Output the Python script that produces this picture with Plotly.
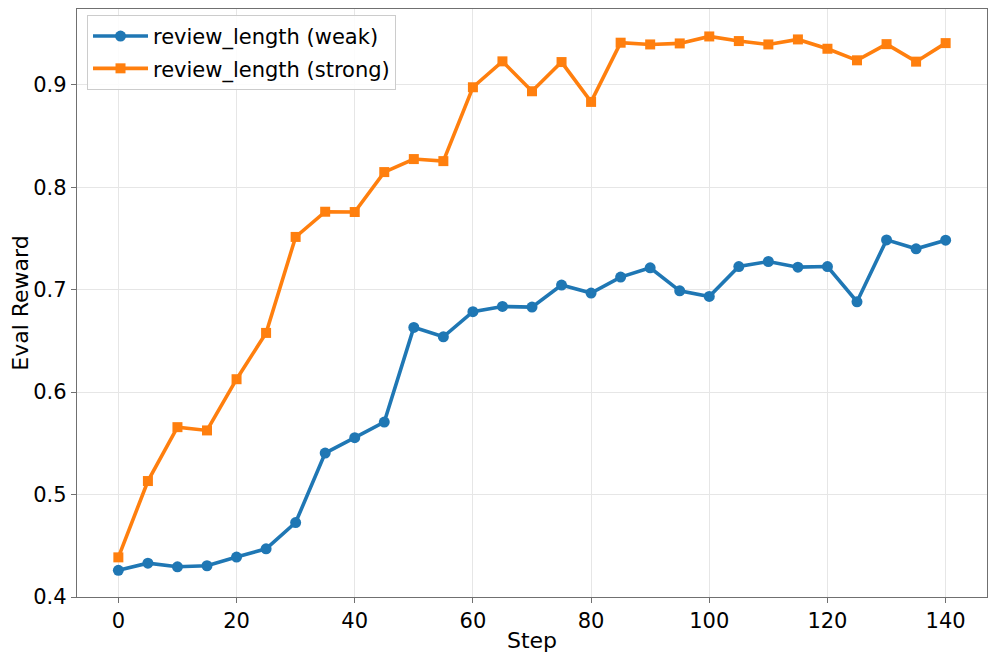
import plotly.graph_objects as go

steps = list(range(0, 145, 5))
weak = [0.426, 0.433, 0.4295, 0.4305, 0.439, 0.447, 0.4727, 0.5405, 0.5555, 0.5708,
        0.6632, 0.654, 0.6785, 0.6836, 0.683, 0.7045, 0.6967, 0.7123, 0.7213, 0.6989,
        0.6934, 0.7226, 0.7275, 0.722, 0.7226, 0.6882, 0.7486, 0.7399, 0.7483]
strong = [0.4387, 0.5132, 0.5658, 0.5626, 0.6126, 0.6578, 0.7515, 0.7761, 0.7758, 0.8148,
          0.8275, 0.8255, 0.8976, 0.9229, 0.8937, 0.9222, 0.8833, 0.9411, 0.9394, 0.9404,
          0.9472, 0.9427, 0.9394, 0.9443, 0.9352, 0.9239, 0.9397, 0.9226, 0.9407]

fig = go.Figure()
fig.add_trace(go.Scatter(x=steps, y=weak, mode="lines+markers", name="review_length (weak)",
                         legendgroup="a",
                         line=dict(color="#1f77b4", width=3.6),
                         marker=dict(symbol="circle", size=11, color="#1f77b4")))
fig.add_trace(go.Scatter(x=steps, y=strong, mode="lines+markers", name="review_length (strong)",
                         legendgroup="b",
                         line=dict(color="#ff7f0e", width=3.6),
                         marker=dict(symbol="square", size=10, color="#ff7f0e")))

axis_common = dict(showline=True, mirror=True, linecolor="#707070", linewidth=1.3,
                   showgrid=True, gridcolor="#e6e6e6", gridwidth=1,
                   ticks="outside", ticklen=5, tickcolor="#707070", tickwidth=1.2,
                   zeroline=False, automargin=False,
                   tickfont=dict(size=21, color="black"))

fig.update_xaxes(range=[-7, 147], tickvals=[0, 20, 40, 60, 80, 100, 120, 140],
                 title=dict(text="Step", font=dict(size=22, color="black"), standoff=0),
                 **axis_common)
fig.update_yaxes(range=[0.4, 0.974], tickvals=[0.4, 0.5, 0.6, 0.7, 0.8, 0.9],
                 ticktext=["0.4", "0.5", "0.6", "0.7", "0.8", "0.9"],
                 title=dict(text="Eval Reward", font=dict(size=22, color="black"), standoff=10),
                 **axis_common)

fig.update_layout(
    width=988, height=653,
    margin=dict(l=69, r=9, t=1, b=64, autoexpand=False),
    paper_bgcolor="white", plot_bgcolor="white",
    font=dict(family="DejaVu Sans", color="black"),
    showlegend=True,
    legend=dict(x=0.011, y=0.99, xanchor="left", yanchor="top",
                bgcolor="rgba(255,255,255,0.85)", bordercolor="#cccccc", borderwidth=1,
                font=dict(size=21, color="black"), itemwidth=55,
                tracegroupgap=2),
)

fig.write_html("out.html")
